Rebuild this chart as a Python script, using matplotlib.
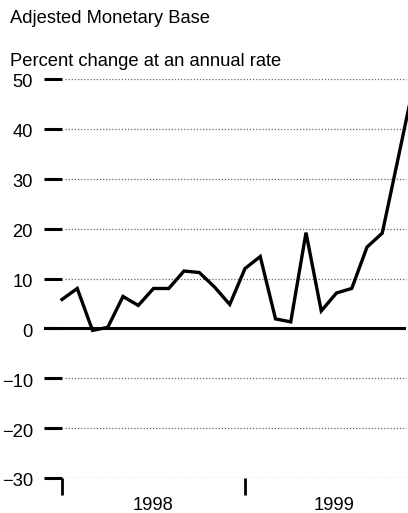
import matplotlib
matplotlib.use("Agg")
import matplotlib.pyplot as plt
import matplotlib.transforms as mtransforms
import numpy as np

# Data: monthly percent change at an annual rate, Jan 1998 - Dec 1999
months = ["Jan98", "Feb98", "Mar98", "Apr98", "May98", "Jun98", "Jul98", "Aug98",
          "Sep98", "Oct98", "Nov98", "Dec98", "Jan99", "Feb99", "Mar99", "Apr99",
          "May99", "Jun99", "Jul99", "Aug99", "Sep99", "Oct99", "Nov99", "Dec99"]
values = [5.8, 8.0, -0.4, 0.2, 6.4, 4.6, 8.0, 8.0, 11.5, 11.2, 8.3, 4.8,
          12.0, 14.4, 1.9, 1.3, 19.2, 3.5, 7.1, 8.0, 16.3, 19.1, 33.5, 48.0]
y_ticks = [50, 40, 30, 20, 10, 0, -10, -20, -30]
year_labels = ["1998", "1999"]

plt.rcParams['font.family'] = ['Liberation Sans', 'DejaVu Sans']
FS = 13.2

W, H = 408, 513
fig = plt.figure(figsize=(W / 100, H / 100), dpi=100)

left_px, right_px = 44, 408
top_px, bot_px = 79, 478
ax = fig.add_axes([left_px / W, 1 - bot_px / H, (right_px - left_px) / W, (bot_px - top_px) / H])

px_per_month = 15.25
x0_px = 62
def px2m(p):
    return (p - x0_px) / px_per_month

x = np.arange(len(values))
ax.set_xlim(px2m(left_px), px2m(right_px))
ax.set_ylim(-30, 50)

for s in ax.spines.values():
    s.set_visible(False)

span = right_px - left_px
# dotted grid lines
for v in y_ticks:
    if v == 0:
        continue
    ax.axhline(v, xmin=(65 - left_px) / span, xmax=(406 - left_px) / span,
               color="#666666", lw=0.9, ls=(0, (1, 1.5)), zorder=1)
# zero line
ax.axhline(0, xmin=0, xmax=(404 - left_px) / span, color="black", lw=2.2, zorder=2)

ax.plot(x, values, color="black", lw=2.4, solid_joinstyle="miter", zorder=3)

# y ticks (inside, thick dashes)
ax.set_yticks(y_ticks)
ax.set_yticklabels([f"{v}".replace("-", "\u2212") for v in y_ticks])
ax.tick_params(axis="y", direction="in", length=13, width=2.2, pad=8,
               labelsize=FS, colors="black")
offset = mtransforms.ScaledTranslation(0, -2 / 100, fig.dpi_scale_trans)
for lab in ax.get_yticklabels():
    lab.set_transform(lab.get_transform() + offset)

# x ticks at year starts
ax.set_xticks([0, 12])
ax.set_xticklabels([])
ax.tick_params(axis="x", which="major", direction="out", length=12.5, width=2.0)
ax.set_xticks([5.95, 17.85], minor=True)
ax.set_xticklabels(year_labels, minor=True)
ax.tick_params(axis="x", which="minor", length=0, pad=13.5, labelsize=FS)

fig.text(10 / W, 1 - 23 / H, "Adjested Monetary Base", fontsize=FS, ha="left", va="baseline")
fig.text(10 / W, 1 - 66 / H, "Percent change at an annual rate", fontsize=FS, ha="left", va="baseline")

fig.savefig("out.png", dpi=100)
